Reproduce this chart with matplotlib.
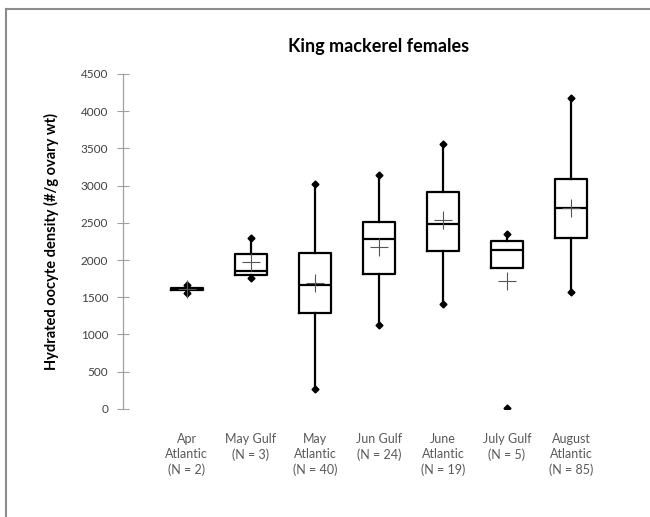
import numpy as np
import matplotlib.pyplot as plt
from matplotlib.lines import Line2D

plt.rcParams['font.family'] = ['Lato', 'DejaVu Sans']

# data
groups = ['Apr\nAtlantic\n(N = 2)', 'May Gulf\n(N = 3)', 'May\nAtlantic\n(N = 40)',
          'Jun Gulf\n(N = 24)', 'June\nAtlantic\n(N = 19)', 'July Gulf\n(N = 5)',
          'August\nAtlantic\n(N = 85)']
q1 = [1595, 1805, 1290, 1818, 2118, 1894, 2302]
med = [1610, 1854, 1666, 2279, 2490, 2140, 2700]
q3 = [1625, 2078, 2100, 2508, 2919, 2257, 3086]
wlo = [1560, 1756, 264, 1124, 1406, 1894, 1572]
whi = [1660, 2293, 3022, 3139, 3560, 2347, 4178]
means = [1610, 1971, 1688, 2172, 2539, 1720, 2700]
outliers = [[], [], [], [], [], [13], []]
show_lo = [True, True, True, True, True, False, True]

stats = []
for i in range(len(groups)):
    stats.append(dict(q1=q1[i], med=med[i], q3=q3[i], whislo=wlo[i], whishi=whi[i],
                      mean=means[i], fliers=outliers[i]))

fig = plt.figure(figsize=(6.5, 5.17), dpi=100)
ax = fig.add_axes([0.189, 0.209, 0.788, 0.648])

pos = np.arange(1, len(groups) + 1)
ax.bxp(stats, positions=pos, widths=0.5, showmeans=True, showcaps=False,
       boxprops=dict(color='black', linewidth=1.6),
       medianprops=dict(color='black', linewidth=1.6),
       whiskerprops=dict(color='black', linewidth=1.6),
       meanprops=dict(marker='+', markeredgecolor='#555555', markersize=13,
                      markeredgewidth=0.8),
       flierprops=dict(marker='D', markerfacecolor='black', markeredgecolor='black',
                       markersize=3.5))

# diamond ends on the whiskers
ax.plot(pos, whi, linestyle='none', marker='D', color='black', markersize=3.5)
lo_x = [p for p, s in zip(pos, show_lo) if s]
lo_y = [v for v, s in zip(wlo, show_lo) if s]
ax.plot(lo_x, lo_y, linestyle='none', marker='D', color='black', markersize=3.5)

ax.set_xlim(0, 8)
ax.set_ylim(0, 4500)
ax.set_yticks(np.arange(0, 4501, 500))
ax.set_xticks(pos)
ax.set_xticklabels(groups, fontsize=9, color='#595959', linespacing=1.35, va='top')
ax.tick_params(axis='x', length=0, pad=17)
ax.tick_params(axis='y', direction='inout', length=9, width=0.8, color='#a0a0a0',
               labelsize=8.5, labelcolor='#404040', pad=6)

for s in ['top', 'right', 'bottom']:
    ax.spines[s].set_visible(False)
ax.spines['left'].set_color('#a0a0a0')
ax.spines['left'].set_linewidth(0.9)

ax.set_ylabel('Hydrated oocyte density (#/g ovary wt)', fontsize=10.5,
              fontweight='bold', labelpad=16)
ax.set_title('King mackerel females', fontsize=13, fontweight='bold', pad=16)

# chart frame (only top and left edges visible in the crop)
fig.add_artist(Line2D([0.0095, 0.0095], [0, 0.982], transform=fig.transFigure,
                      color='#8c8c8c', linewidth=1.5))
fig.add_artist(Line2D([0.0095, 1.0], [0.982, 0.982], transform=fig.transFigure,
                      color='#8c8c8c', linewidth=1.5))

fig.savefig('out.png', dpi=100)
